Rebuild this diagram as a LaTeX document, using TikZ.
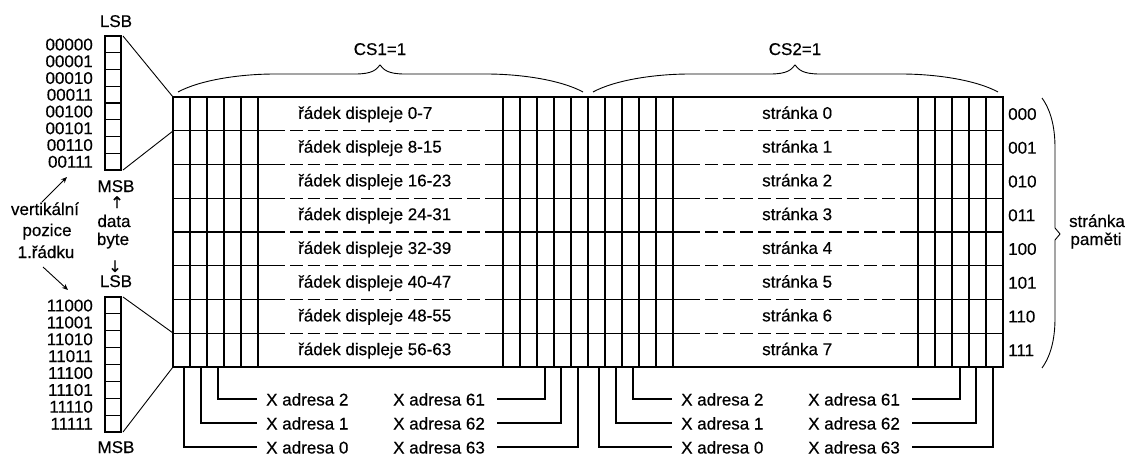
\documentclass[tikz,border=0pt]{standalone}
\usepackage{fontspec}
\setmainfont{Liberation Sans}[FakeBold=0.4]
\newfontfamily\arrowfont{DejaVu Sans}[FakeBold=0.6]
\usetikzlibrary{arrows.meta}
\begin{document}
\begin{tikzpicture}[x=1pt,y=-1pt,
  txt/.style={font=\fontsize{17}{20}\selectfont, inner sep=0pt, anchor=base},
  gridline/.style={line width=1.1pt},
  boldline/.style={line width=2.6pt},
  fine/.style={line width=0.9pt},
  dashline/.style={line width=1.1pt, dash pattern=on 12.7pt off 5pt},
  ptr/.style={line width=0.9pt, -{Stealth[length=6pt,width=5pt]}}
]
\useasboundingbox[fill=white] (0,0) rectangle (1128,455);

% ---------- grid of the two halves ----------
\foreach \h/\s in {0/a,415/b}{
  \begin{scope}[xshift=\h]
    \foreach \k in {1,...,5}{
      \draw[gridline] (173+17*\k,97) -- (173+17*\k,367);
      \draw[gridline] (588-17*\k,97) -- (588-17*\k,367);
    }
    \foreach \i in {1,...,7}{
      \draw[gridline] (173,97+33.75*\i) -- (285,97+33.75*\i);
      \draw[dashline] (290,97+33.75*\i) -- (480,97+33.75*\i);
      \draw[gridline] (485,97+33.75*\i) -- (588,97+33.75*\i);
    }
    % top brace
    \draw[fine] (178,92) .. controls (200,80) and (240,74) .. (275,74) -- (355,74)
      .. controls (372,74) and (376,70) .. (380,65)
      .. controls (384,70) and (388,74) .. (405,74) -- (486,74)
      .. controls (521,74) and (561,80) .. (583,92);
    % X address connectors
    \coordinate (c0\s) at (184,367);
    \coordinate (c1\s) at (201,367);
    \coordinate (c2\s) at (218,367);
    \coordinate (c61\s) at (545,367);
    \coordinate (c62\s) at (561,367);
    \coordinate (c63\s) at (578,367);
    \coordinate (e2\s) at (257,399);
    \coordinate (e1\s) at (257,423);
    \coordinate (e0\s) at (257,447);
    \coordinate (e61\s) at (497,399);
    \coordinate (e62\s) at (497,423);
    \coordinate (e63\s) at (497,447);
    \draw[gridline] (c2\s) |- (e2\s);
    \draw[gridline] (c1\s) |- (e1\s);
    \draw[gridline] (c0\s) |- (e0\s);
    \draw[gridline] (c61\s) |- (e61\s);
    \draw[gridline] (c62\s) |- (e62\s);
    \draw[gridline] (c63\s) |- (e63\s);
    \node[txt,anchor=base west] (xa2\s) at (266,405.5) {X adresa 2};
    \node[txt,anchor=base west] (xa1\s) at (266,429.5) {X adresa 1};
    \node[txt,anchor=base west] (xa0\s) at (266,453.5) {X adresa 0};
    \node[txt,anchor=base west] (xa61\s) at (393,405.5) {X adresa 61};
    \node[txt,anchor=base west] (xa62\s) at (393,429.5) {X adresa 62};
    \node[txt,anchor=base west] (xa63\s) at (393,453.5) {X adresa 63};
  \end{scope}
}

% ---------- thick outline ----------
\draw[boldline] (173,97) rectangle (1003,367);
\draw[boldline] (588,97) -- (588,367);
\coordinate (m0) at (173,97);
\coordinate (m1) at (173,131);
\coordinate (m7) at (173,333);
\coordinate (m8) at (173,367);

% ---------- row texts ----------
\foreach \i [evaluate=\i as \a using int(8*\i), evaluate=\i as \b using int(8*\i+7)] in {0,...,7}{
  \node[txt,anchor=base west] (r\i) at (298,97+33.75*\i+21.875) {řádek displeje \a-\b};
  \node[txt,anchor=base west] (s\i) at (762,97+33.75*\i+21.875) {stránka \i};
}
\foreach \lab [count=\i from 0] in {000,001,010,011,100,101,110,111}{
  \node[txt,anchor=base west] (p\i) at (1008,97+33.75*\i+22.875) {\lab};
}

% ---------- CS labels ----------
\node[txt] (cs1) at (380,55) {CS1=1};
\node[txt] (cs2) at (795,55) {CS2=1};

% ---------- right brace ----------
\draw[fine] (1042,98) .. controls (1052,112) and (1055,130) .. (1055,148) -- (1055,228)
  -- (1060,234) -- (1055,240) -- (1055,318)
  .. controls (1055,336) and (1052,354) .. (1042,368);
\node[txt] (sp1) at (1097,227) {stránka};
\node[txt] (sp2) at (1096,245) {paměti};

% ---------- left bit columns ----------
\draw[gridline] (105,36) rectangle (121,170);
\foreach \j in {1,...,7} \draw[gridline] (105,36+16.75*\j) -- (121,36+16.75*\j);
\foreach \lab [count=\j from 0] in {00000,00001,00010,00011,00100,00101,00110,00111}{
  \node[txt,anchor=base east] (t\j) at (93,36+16.75*\j+14.4) {\lab};
}
\draw[gridline] (105,297) rectangle (121,432);
\foreach \j in {1,...,7} \draw[gridline] (105,297+16.875*\j) -- (121,297+16.875*\j);
\foreach \lab [count=\j from 0] in {11000,11001,11010,11011,11100,11101,11110,11111}{
  \node[txt,anchor=base east] (u\j) at (93,297+16.875*\j+14.4) {\lab};
}
\coordinate (ta) at (123,36);
\coordinate (tb) at (123,170);
\coordinate (ua) at (123,297);
\coordinate (ub) at (123,432);
\draw[fine] (ta) -- (m0);
\draw[fine] (tb) -- (m1);
\draw[fine] (ua) -- (m7);
\draw[fine] (ub) -- (m8);

\node[txt] (lsb1) at (116,27) {LSB};
\node[txt] (msb1) at (116,192) {MSB};
\node[txt,font=\arrowfont\fontsize{16}{18}\selectfont] (up) at (117,208) {↑};
\node[txt] (data) at (114,227) {data};
\node[txt] (byte) at (113,245) {byte};
\node[txt,font=\arrowfont\fontsize{16}{18}\selectfont] (down) at (115,272) {↓};
\node[txt] (lsb2) at (116,287) {LSB};
\node[txt] (msb2) at (116,453) {MSB};

\node[txt] (v1) at (45,215) {vertikální};
\node[txt] (v2) at (47,236) {pozice};
\node[txt] (v3) at (46,258) {1.řádku};
\coordinate (a1s) at (42,202);
\coordinate (a1e) at (67,177);
\coordinate (a2s) at (43,267);
\coordinate (a2e) at (68,290);
\draw[ptr] (a1s) -- (a1e);
\draw[ptr] (a2s) -- (a2e);
\end{tikzpicture}
\end{document}
